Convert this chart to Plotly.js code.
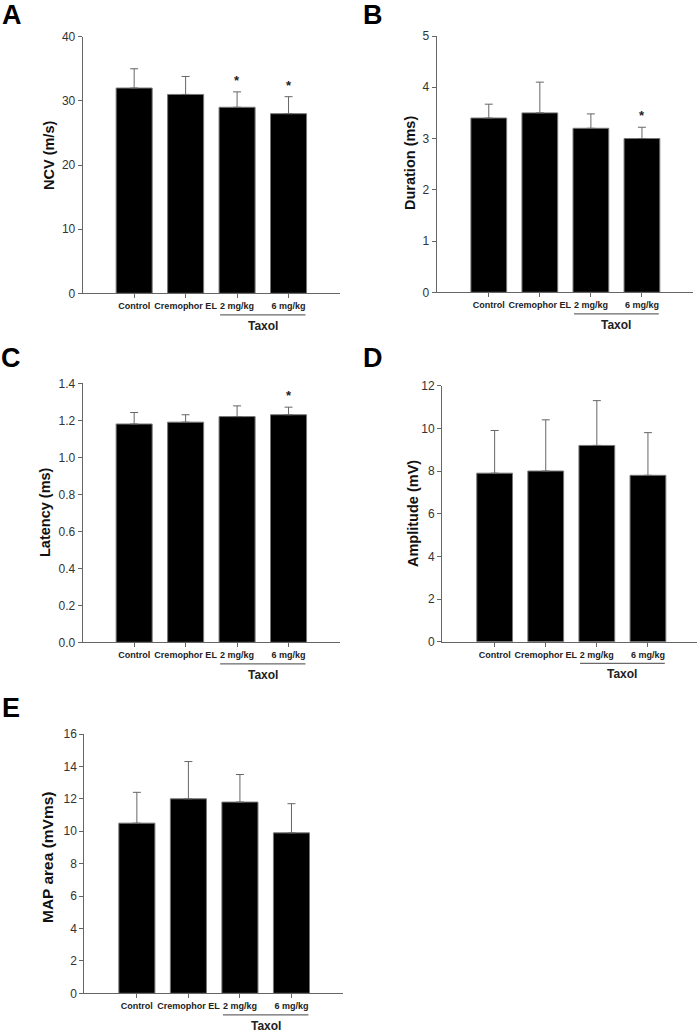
<!DOCTYPE html>
<html>
<head>
<meta charset="utf-8">
<script src="https://cdn.plot.ly/plotly-3.0.1.min.js"></script>
<style>html,body{margin:0;padding:0;background:#fff;}#chart{width:697px;height:1032px;}</style>
</head>
<body>
<div id="chart"></div>
<script>
// ---- data ----
const categories = ['Control', 'Cremophor EL', '2 mg/kg', '6 mg/kg'];
const groupLabel = 'Taxol';

const ncv = [32.0, 31.0, 29.0, 28.0];
const ncvErr = [3.0, 2.8, 2.4, 2.65];
const ncvSig = [false, false, true, true];

const duration = [3.40, 3.50, 3.20, 3.00];
const durationErr = [0.27, 0.60, 0.28, 0.22];
const durationSig = [false, false, false, true];

const latency = [1.18, 1.19, 1.22, 1.23];
const latencyErr = [0.062, 0.040, 0.058, 0.041];
const latencySig = [false, false, false, true];

const amplitude = [7.9, 8.0, 9.2, 7.8];
const amplitudeErr = [2.0, 2.4, 2.1, 2.0];
const amplitudeSig = [false, false, false, false];

const mapArea = [10.5, 12.0, 11.8, 9.9];
const mapAreaErr = [1.9, 2.3, 1.7, 1.8];
const mapAreaSig = [false, false, false, false];

// ---- layout helpers ----
const W = 697, H = 1032;
const px = v => v / W;
const py = v => 1 - v / H;
const xs = categories.map((c, i) => i);

const panels = [
  {letter: 'A', title: 'NCV (m/s)', y: ncv, e: ncvErr, sig: ncvSig,
   dom: [82.7, 340, 36.7, 293.3], yr: [0, 40], dt: 10, fmt: 'd', xr: [-1, 4],
   letterPos: [12, 15], titlePos: [49, 156], tsize: 14.5},
  {letter: 'B', title: 'Duration (ms)', y: duration, e: durationErr, sig: durationSig,
   dom: [436.7, 693, 36, 292.3], yr: [0, 5], dt: 1, fmt: 'd', xr: [-1.02, 4.0],
   letterPos: [373, 15], titlePos: [410, 163], tsize: 14.5},
  {letter: 'C', title: 'Latency (ms)', y: latency, e: latencyErr, sig: latencySig,
   dom: [82.7, 340, 383.3, 642.3], yr: [0, 1.4], dt: 0.2, fmt: '.1f', xr: [-1, 4],
   letterPos: [11, 358], titlePos: [45, 512], tsize: 14.5},
  {letter: 'D', title: 'Amplitude (mV)', y: amplitude, e: amplitudeErr, sig: amplitudeSig,
   dom: [442, 697, 385.7, 641.7], yr: [0, 12], dt: 2, fmt: 'd', xr: [-1.03, 3.96],
   letterPos: [373, 358], titlePos: [413, 514], tsize: 14.5},
  {letter: 'E', title: 'MAP area (mVms)', y: mapArea, e: mapAreaErr, sig: mapAreaSig,
   dom: [84.3, 343, 734, 993.3], yr: [0, 16], dt: 2, fmt: 'd', xr: [-1.02, 4.0],
   letterPos: [11, 708], titlePos: [47, 857], tsize: 15.5}
];

const data = [];
const layout = {
  width: W, height: H,
  margin: {l: 0, r: 0, t: 0, b: 0},
  paper_bgcolor: '#ffffff', plot_bgcolor: 'rgba(0,0,0,0)',
  showlegend: false,
  font: {family: 'Arial, "Liberation Sans", sans-serif', color: '#222'},
  annotations: [], shapes: []
};

panels.forEach((p, k) => {
  const n = k === 0 ? '' : String(k + 1);
  const xa = 'x' + n, ya = 'y' + n;
  data.push({
    type: 'bar', x: xs, y: p.y, xaxis: xa, yaxis: ya, width: 0.7,
    marker: {color: '#000000', line: {color: '#777777', width: 1}},
    error_y: {type: 'data', symmetric: false, array: p.e, arrayminus: p.e.map(() => 0),
              color: '#666666', thickness: 1, width: 4},
    hoverinfo: 'none'
  });
  layout['xaxis' + n] = {
    domain: [px(p.dom[0]), px(p.dom[1])], anchor: ya, range: p.xr,
    tickvals: xs, ticktext: categories,
    showline: true, linecolor: '#666', linewidth: 1,
    ticks: 'outside', ticklen: 4, tickcolor: '#666', showgrid: false, zeroline: false,
    tickfont: {size: 9, family: 'Arial, "Liberation Sans", sans-serif', color: '#222', weight: 'bold'},
    fixedrange: true
  };
  layout['yaxis' + n] = {
    domain: [py(p.dom[3]), py(p.dom[2])], anchor: xa, range: p.yr, dtick: p.dt, tick0: 0,
    tickformat: p.fmt,
    showline: true, linecolor: '#666', linewidth: 1,
    ticks: 'outside', ticklen: 4, tickcolor: '#666', showgrid: false, zeroline: false,
    tickfont: {size: 12, family: 'Arial, "Liberation Sans", sans-serif', color: '#333'},
    fixedrange: true
  };
  // panel letter
  layout.annotations.push({
    xref: 'paper', yref: 'paper', x: px(p.letterPos[0]), y: py(p.letterPos[1]),
    text: '<b>' + p.letter + '</b>', showarrow: false, xanchor: 'center', yanchor: 'middle',
    font: {size: 27, family: 'Arial, "Liberation Sans", sans-serif', color: '#000'}
  });
  // y title
  layout.annotations.push({
    xref: 'paper', yref: 'paper', x: px(p.titlePos[0]), y: py(p.titlePos[1]),
    text: '<b>' + p.title + '</b>', showarrow: false, textangle: -90,
    xanchor: 'center', yanchor: 'middle',
    font: {size: p.tsize, family: 'Arial, "Liberation Sans", sans-serif', color: '#111'}
  });
  // significance stars
  p.sig.forEach((s, i) => {
    if (!s) return;
    layout.annotations.push({
      xref: xa, yref: ya, x: xs[i], y: p.y[i] + p.e[i],
      text: '<b>*</b>', showarrow: false, xanchor: 'center', yanchor: 'bottom', yshift: 2,
      font: {size: 13, family: 'Arial, "Liberation Sans", sans-serif', color: '#222'}
    });
  });
  // Taxol grouping line + label
  const bottom = p.dom[3];
  layout.shapes.push({
    type: 'line', xref: xa, yref: 'paper', x0: 2 - 0.33, x1: 3 + 0.33,
    y0: py(bottom + 21.6), y1: py(bottom + 21.6),
    line: {color: '#444', width: 1}
  });
  layout.annotations.push({
    xref: xa, yref: 'paper', x: 2.5, y: py(bottom + 32.5),
    text: '<b>' + groupLabel + '</b>', showarrow: false, xanchor: 'center', yanchor: 'middle',
    font: {size: 12, family: 'Arial, "Liberation Sans", sans-serif', color: '#222'}
  });
});

Plotly.newPlot('chart', data, layout, {staticPlot: true, displayModeBar: false});
</script>
</body>
</html>
